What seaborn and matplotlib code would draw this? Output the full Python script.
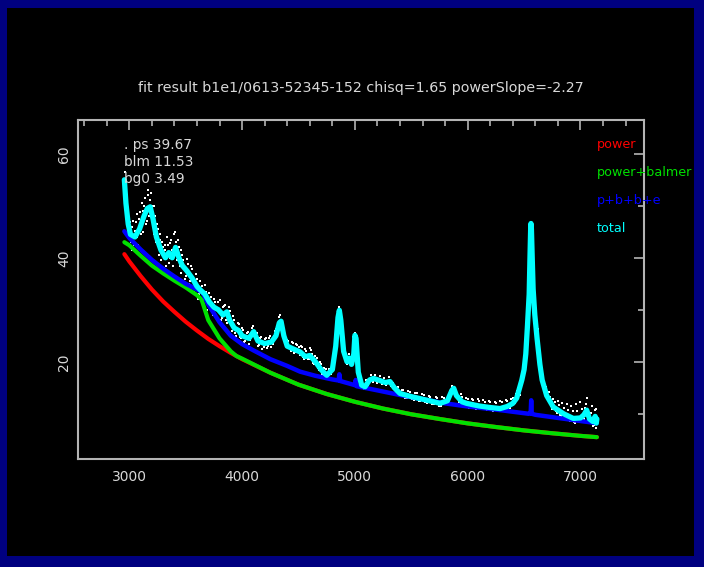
import numpy as np
import pandas as pd
import matplotlib
matplotlib.use("Agg")
import matplotlib.pyplot as plt
from matplotlib.patches import Rectangle
from matplotlib.ticker import MultipleLocator
import seaborn as sns

# ---------------- data ----------------
title = "fit result b1e1/0613-52345-152 chisq=1.65 powerSlope=-2.27"
param_labels = [". ps 39.67", "blm 11.53", "bg0 3.49"]
legend_labels = ["power", "power+balmer", "p+b+b+e", "total"]

power_wave = [2956, 3000, 3100, 3200, 3300, 3400, 3500, 3600, 3700, 3800, 3900,
              4000, 4250, 4500, 4750, 5000, 5250, 5500, 5750, 6000, 6250, 6500,
              6750, 7000, 7145]
power_flux = [40.7, 39.3, 36.5, 33.9, 31.6, 29.6, 27.7, 26.0, 24.4, 23.0, 21.7,
              20.5, 17.9, 15.6, 13.8, 12.3, 11.0, 9.9, 9.0, 8.15, 7.45, 6.8,
              6.25, 5.75, 5.5]

balmer_wave = [2956, 3000, 3100, 3200, 3300, 3400, 3500, 3600, 3640, 3700, 3800,
               3900, 3950, 4000, 4250, 4500, 4750, 5000, 5250, 5500, 5750, 6000,
               6250, 6500, 6750, 7000, 7145]
balmer_flux = [43.0, 42.4, 40.4, 38.5, 37.0, 35.6, 34.3, 32.8, 32.0, 28.0, 24.5,
               22.0, 21.1, 20.6, 17.9, 15.6, 13.8, 12.3, 11.0, 9.9, 9.0, 8.15,
               7.45, 6.8, 6.25, 5.75, 5.5]

pbbe_wave = [2956, 3000, 3100, 3200, 3300, 3400, 3500, 3600, 3650, 3700, 3800,
             3900, 4000, 4100, 4250, 4400, 4514, 4650, 4800, 4855, 4862, 4870,
             5000, 5007, 5015, 5200, 5400, 5600, 5800, 6000, 6287, 6540, 6558,
             6563, 6568, 6600, 6800, 7000, 7145]
pbbe_flux = [45.1, 43.8, 41.6, 39.6, 37.9, 36.4, 35.0, 33.9, 33.3, 31.0, 27.6,
             25.0, 23.4, 22.2, 20.5, 19.2, 18.1, 17.3, 16.6, 16.4, 17.6, 16.3,
             15.5, 16.5, 15.3, 14.5, 13.6, 12.8, 12.0, 11.4, 10.7, 10.0, 10.1,
             12.6, 10.0, 9.8, 9.2, 8.6, 8.2]

total_wave = [2956, 2970, 2990, 3010, 3050, 3090, 3130, 3160, 3185, 3210, 3240,
              3280, 3320, 3350, 3380, 3410, 3440, 3470, 3510, 3560, 3600, 3630,
              3670, 3710, 3750, 3790, 3830, 3865, 3890, 3930, 3970, 4000, 4060,
              4102, 4140, 4200, 4260, 4300, 4330, 4345, 4370, 4400, 4450, 4514,
              4560, 4600, 4650, 4700, 4750, 4800, 4830, 4850, 4862, 4875, 4900,
              4930, 4950, 4970, 4990, 5000, 5010, 5030, 5060, 5090, 5130, 5164,
              5220, 5270, 5311, 5350, 5400, 5500, 5600, 5700, 5754, 5820, 5860,
              5876, 5900, 5950, 5991, 6100, 6200, 6287, 6350, 6400, 6434, 6480,
              6500, 6515, 6530, 6545, 6552, 6558, 6561, 6565, 6572, 6580, 6595,
              6615, 6640, 6660, 6700, 6759, 6850, 6936, 7000, 7030, 7055, 7080,
              7110, 7130, 7140, 7145]
total_flux = [55.0, 50.5, 46.5, 44.5, 44.0, 45.5, 48.0, 49.5, 49.8, 47.5, 44.0,
              41.5, 40.0, 41.0, 40.0, 42.0, 40.0, 38.5, 37.5, 36.0, 34.5, 33.8,
              33.0, 31.5, 30.5, 30.0, 29.0, 29.6, 28.0, 26.5, 26.0, 25.0, 24.5,
              25.8, 24.0, 23.5, 23.8, 25.0, 27.5, 27.8, 25.0, 23.0, 22.5, 21.9,
              21.0, 21.2, 20.0, 18.5, 17.4, 18.5, 23.0, 28.5, 29.9, 28.0, 22.0,
              20.0, 20.7, 19.5, 21.5, 25.1, 24.5, 18.0, 15.5, 15.2, 16.5, 16.8,
              16.4, 16.0, 16.2, 15.0, 13.9, 13.3, 12.8, 12.3, 12.0, 12.5, 14.5,
              14.9, 13.5, 12.3, 12.0, 11.5, 11.2, 11.0, 11.4, 12.0, 13.0, 16.5,
              18.5, 21.5, 27.0, 33.0, 40.0, 45.5, 46.6, 45.5, 40.0, 34.0, 29.0,
              24.5, 19.5, 16.5, 13.5, 11.3, 10.0, 9.1, 9.2, 9.8, 10.7, 9.0,
              8.5, 9.5, 8.2, 9.0]

obs_wave = [2960, 2975, 2990, 3005, 3020, 3035, 3050, 3065, 3080, 3095, 3110,
            3125, 3140, 3155, 3170, 3185, 3200, 3215, 3230, 3245, 3260, 3275,
            3290, 3305, 3320, 3335, 3350, 3365, 3380, 3395, 3410, 3425, 3440,
            3455, 3470, 3490, 3510, 3530, 3550, 3570, 3590, 3610, 3630, 3650,
            3670, 3690, 3710, 3730, 3750, 3770, 3790, 3810, 3830, 3850, 3870,
            3890, 3910, 3930, 3950, 3970, 3990, 4010, 4030, 4050, 4070, 4090,
            4110, 4130, 4150, 4170, 4190, 4210, 4230, 4250, 4270, 4290, 4310,
            4330, 4350, 4370, 4390, 4410, 4430, 4450, 4470, 4490, 4510, 4530,
            4550, 4570, 4590, 4610, 4630, 4650, 4670, 4690, 4710, 4730, 4750,
            4770, 4790, 4810, 4830, 4845, 4855, 4862, 4870, 4885, 4900, 4915,
            4930, 4950, 4970, 4990, 5000, 5010, 5025, 5040, 5060, 5080, 5100,
            5120, 5140, 5160, 5180, 5200, 5220, 5240, 5260, 5280, 5300, 5320,
            5340, 5360, 5380, 5400, 5430, 5460, 5490, 5520, 5550, 5580, 5610,
            5640, 5670, 5700, 5730, 5760, 5790, 5820, 5845, 5865, 5880, 5900,
            5925, 5950, 5975, 6000, 6025, 6050, 6075, 6100, 6125, 6150, 6175,
            6200, 6225, 6250, 6275, 6300, 6325, 6350, 6375, 6400, 6420, 6440,
            6460, 6480, 6500, 6520, 6540, 6560, 6590, 6620, 6650, 6670, 6690,
            6710, 6730, 6750, 6770, 6790, 6810, 6830, 6850, 6870, 6890, 6910,
            6930, 6950, 6970, 6990, 7010, 7030, 7050, 7070, 7090, 7110, 7130,
            7140,
            2965, 2980, 2998, 3012, 3028, 3042, 3058, 3072, 3088, 3102, 3118,
            3132, 3148, 3162, 3178, 3192, 3208, 3222, 3238, 3252, 3268, 3282,
            3298, 3312, 3328, 3342, 3358, 3372, 3388, 3402, 3418, 3432, 3448,
            3462, 3480, 3500, 3520, 3540, 3560, 3580, 3600, 3620, 3640, 3660,
            3680, 3700, 3720, 3740, 3760, 3780, 3800, 3820, 3840, 3860, 3880,
            3900, 3920, 3940, 3960, 3980, 4000, 4020, 4040, 4060, 4080, 4100,
            4120, 4140, 4160, 4180, 4200, 4220, 4240, 4260, 4280, 4300, 4320,
            4340, 4360, 4380, 4400, 4420, 4440, 4460, 4480, 4500, 4520, 4540,
            4560, 4580, 4600, 4620, 4640, 4660, 4680, 4700, 4720, 4740, 4760,
            5415, 5445, 5475, 5505, 5535, 5565, 5595, 5625, 5655, 5685, 5715,
            5745, 5775, 5805, 5835, 5890, 5912, 5938, 5962, 5988, 6012, 6038,
            6062, 6088, 6112, 6138, 6162, 6188, 6212, 6238, 6262, 6288, 6312,
            6338, 6362, 6388, 6410, 6430, 6450, 6470,
            6680, 6700, 6720, 6740, 6760, 6780, 6800, 6820, 6840, 6860, 6880,
            6900, 6920, 6940, 6960, 6980, 7000, 7020, 7040, 7060, 7080, 7100,
            7120, 7135]
obs_flux = [56.5, 52.0, 48.0, 46.8, 41.5, 47.0, 45.2, 48.5, 42.5, 48.8, 50.5,
            45.0, 51.5, 47.0, 53.0, 51.2, 50.0, 44.5, 48.0, 46.5, 40.5, 44.6,
            43.0, 38.0, 42.5, 44.0, 39.0, 42.8, 41.5, 44.5, 43.0, 39.5, 42.0,
            37.0, 40.5, 36.0, 39.8, 35.0, 38.5, 33.5, 36.8, 32.0, 35.5, 31.5,
            34.8, 30.0, 33.2, 29.5, 32.0, 28.6, 31.5, 28.0, 30.5, 31.0, 27.5,
            29.8, 26.0, 28.0, 25.0, 27.3, 24.5, 26.2, 24.0, 25.8, 24.2, 26.5,
            24.8, 25.5, 23.2, 24.8, 22.9, 24.6, 23.0, 24.9, 23.5, 26.0, 25.0,
            28.6, 26.5, 26.2, 23.0, 24.0, 22.0, 23.7, 21.8, 23.2, 21.3, 22.8,
            20.6, 22.0, 20.5, 22.3, 19.8, 21.2, 18.8, 19.9, 17.6, 18.8, 16.8,
            18.7, 17.6, 20.5, 22.2, 27.8, 28.6, 30.6, 28.2, 25.8, 21.4, 21.6,
            19.5, 21.4, 20.2, 21.0, 25.6, 23.8, 20.2, 16.4, 16.2, 14.8, 16.4,
            15.6, 17.4, 16.2, 17.5, 15.9, 17.2, 15.7, 16.9, 15.5, 17.0, 15.4,
            16.0, 14.2, 15.1, 13.4, 14.5, 13.0, 14.2, 12.6, 13.9, 12.4, 13.6,
            12.1, 13.3, 11.8, 13.0, 11.5, 13.0, 12.0, 14.4, 15.3, 14.2, 14.3,
            12.3, 13.2, 11.6, 12.9, 11.3, 12.7, 11.0, 12.5, 10.9, 12.3, 10.7,
            12.2, 10.6, 12.1, 10.5, 12.2, 10.7, 12.5, 11.1, 13.0, 12.0, 14.3,
            13.7, 17.2, 18.0, 22.8, 31.8, 45.0, 35.3, 26.3, 18.8, 15.2, 15.2,
            12.6, 13.3, 10.9, 12.2, 10.1, 11.7, 9.6, 11.2, 9.0, 10.8, 8.6,
            10.5, 8.3, 10.6, 8.5, 11.0, 9.0, 11.8, 8.8, 10.2, 7.6, 10.7,
            7.2,
            54.0, 50.8, 45.5, 43.0, 46.0, 42.5, 46.8, 44.0, 47.5, 44.5, 49.0,
            50.0, 46.5, 52.0, 48.0, 52.5, 47.0, 50.0, 43.0, 45.5, 43.5, 39.5,
            42.0, 41.5, 38.5, 42.5, 40.0, 43.5, 38.5, 45.0, 41.0, 43.5, 38.5,
            41.5, 39.5, 36.5, 38.8, 35.5, 37.8, 34.0, 36.0, 33.0, 34.5, 32.0,
            33.5, 31.0, 32.5, 29.0, 31.5, 28.5, 31.8, 28.5, 30.8, 28.0, 30.5,
            27.0, 28.8, 25.5, 27.5, 24.8, 26.5, 23.8, 25.6, 23.5, 25.5, 26.8,
            25.2, 23.0, 24.6, 22.5, 24.3, 22.6, 24.5, 22.8, 25.0, 26.3, 27.0,
            29.0, 25.5, 24.5, 24.2, 22.6, 23.8, 21.6, 23.5, 22.8, 23.0, 21.0,
            22.5, 20.6, 22.6, 21.5, 19.5, 20.8, 18.5, 19.6, 17.4, 18.6, 16.6,
            14.6, 13.1, 14.3, 12.9, 14.0, 12.5, 13.8, 12.2, 13.5, 11.9, 13.2,
            11.4, 13.2, 12.0, 13.2, 15.0, 13.0, 13.8, 12.0, 13.0, 11.2, 12.9,
            11.2, 12.8, 11.0, 12.6, 10.9, 12.4, 10.8, 12.3, 10.7, 12.4, 11.0,
            12.6, 11.3, 12.9, 12.4, 13.8, 14.9, 15.0,
            14.5, 13.0, 14.2, 11.5, 12.8, 10.5, 12.5, 9.8, 12.0, 9.3, 11.8,
            9.0, 11.5, 8.4, 11.9, 9.0, 12.3, 9.4, 11.2, 13.0, 9.2, 11.5,
            7.8, 11.0]

x_ticks = [3000, 4000, 5000, 6000, 7000]
y_ticks = [20, 40, 60]

# ---------------- styling ----------------
W, H = 704, 567
navy = "#000080"
fg = "#d8d8d8"
axis_col = "#b4b4b4"
c_power, c_balmer, c_pbbe, c_total = "#ff0000", "#00e000", "#0000ff", "#00ffff"

sns.set_style("dark")
plt.rcParams["font.family"] = ["DejaVu Sans"]

fig = plt.figure(figsize=(W / 100, H / 100), dpi=100, facecolor=navy)
fig.patches.append(Rectangle((7 / W, 1 - 556 / H), (694 - 7) / W, (556 - 8) / H,
                             transform=fig.transFigure, facecolor="black",
                             edgecolor="none", zorder=-10))

ax = fig.add_axes([78 / W, 1 - 459 / H, (644 - 78) / W, (459 - 120) / H])
ax.set_zorder(1)
ax.set_facecolor("black")

df_obs = pd.DataFrame({"wave": obs_wave, "flux": obs_flux})
sns.scatterplot(data=df_obs, x="wave", y="flux", ax=ax, color="white",
                marker="s", s=4, linewidth=0, zorder=2)

series = [(power_wave, power_flux, c_power, 3.0),
          (balmer_wave, balmer_flux, c_balmer, 3.0),
          (pbbe_wave, pbbe_flux, c_pbbe, 3.2),
          (total_wave, total_flux, c_total, 3.8)]
for i, (xw, yf, col, lw) in enumerate(series):
    d = pd.DataFrame({"wave": xw, "flux": yf})
    sns.lineplot(data=d, x="wave", y="flux", ax=ax, color=col, linewidth=lw,
                 sort=False, estimator=None, zorder=3 + i)

ax.set_xlim(2545, 7563)
ax.set_ylim(1.3, 66.5)
ax.set_xlabel("")
ax.set_ylabel("")
ax.grid(False)

ax.set_xticks(x_ticks)
ax.set_yticks(y_ticks)
ax.xaxis.set_minor_locator(MultipleLocator(200))
ax.yaxis.set_minor_locator(MultipleLocator(10))
ax.tick_params(which="both", direction="in", top=True, right=True,
               color=axis_col, width=1.2, labelcolor=fg, labelsize=10)
ax.tick_params(which="major", length=7)
ax.tick_params(which="minor", length=4)
ax.tick_params(axis="x", pad=8)
ax.tick_params(axis="y", pad=5)
for lab in ax.get_yticklabels():
    lab.set_rotation(90)
    lab.set_va("center")
for sp in ax.spines.values():
    sp.set_color(axis_col)
    sp.set_linewidth(1.5)
    sp.set_visible(True)

fig.text(361 / W, 1 - 88 / H, title, color=fg, fontsize=10.3,
         ha="center", va="center")

for k, t in enumerate(param_labels):
    fig.text(124 / W, 1 - (145 + 17 * k) / H, t, color=fg, fontsize=9.8,
             ha="left", va="center", zorder=10)

for k, (t, col) in enumerate(zip(legend_labels, [c_power, c_balmer, c_pbbe, c_total])):
    fig.text(597 / W, 1 - (145 + 28 * k) / H, t, color=col, fontsize=9.2,
             ha="left", va="center", zorder=10)

fig.savefig("out.png", dpi=100, facecolor=navy)
